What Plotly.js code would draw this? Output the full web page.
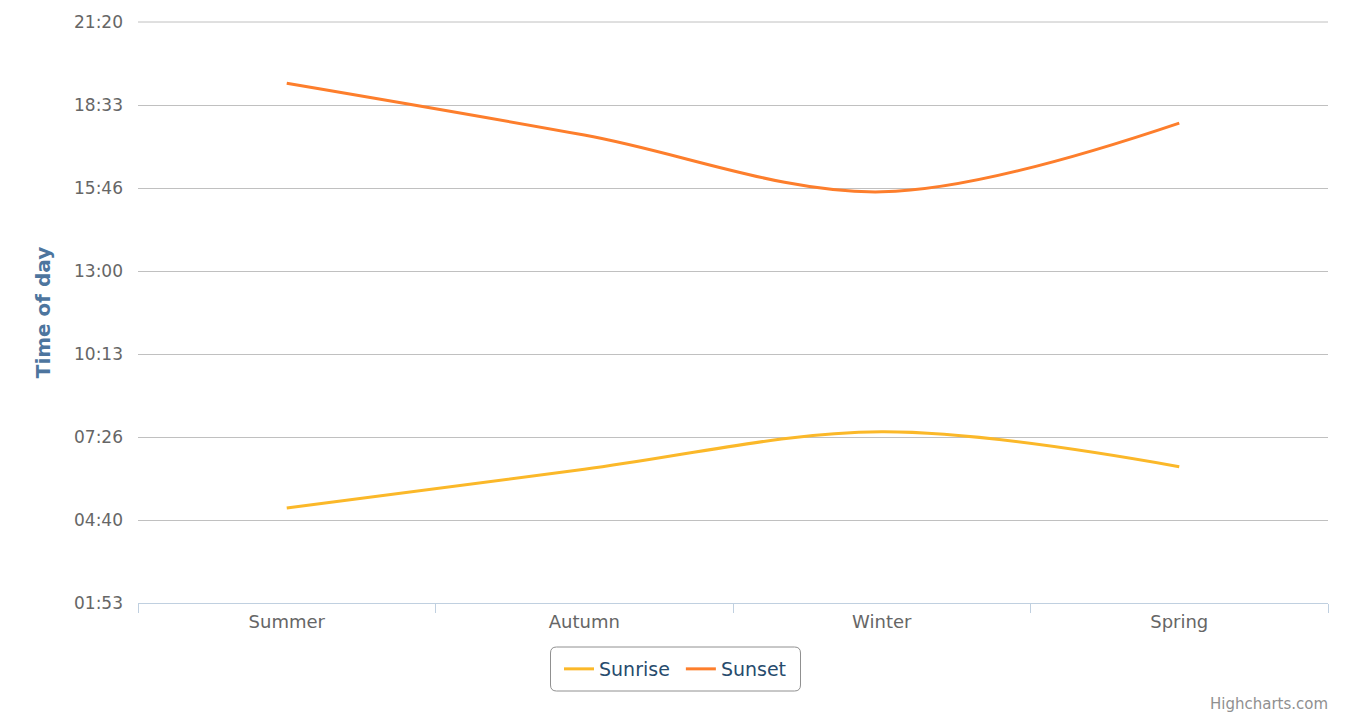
<!DOCTYPE html>
<html>
<head>
<meta charset="utf-8">
<script src="https://cdn.plot.ly/plotly-3.0.1.min.js"></script>
<style>html,body{margin:0;padding:0;background:#fff;}#chart{width:1351px;height:715px;}</style>
</head>
<body>
<div id="chart"></div>
<script>
// Data
var seasons = ["Summer", "Autumn", "Winter", "Spring"];
var sunrise = ["05:04", "06:22", "07:37", "06:27"];
var sunset  = ["19:17", "17:33", "15:39", "17:57"];
var seriesNames = ["Sunrise", "Sunset"];
var baseDay = "1970-01-01 ";
var yRange = ["01:53:20", "21:20:00"];
var yTick0 = "01:53:20";

function toDate(arr){ return arr.map(function(t){ return baseDay + t; }); }

var W = 1351, H = 715;
var L = 138, R = 1328, T = 22, B = 603;
var fontFam = '"DejaVu Sans", "Lucida Grande", Verdana, sans-serif';

var traces = [
  {x: seasons, y: toDate(sunrise), name: seriesNames[0] + "&nbsp;", type: "scatter", mode: "lines",
   line: {color: "#fbb829", width: 3, shape: "spline", smoothing: 1}},
  {x: seasons, y: toDate(sunset), name: seriesNames[1], type: "scatter", mode: "lines",
   line: {color: "#fd7e2c", width: 3, shape: "spline", smoothing: 1}}
];

var legendCx = (W/2 - L) / (R - L);
var legendCy = (B - 669) / (B - T);

function roundRect(w, h, r){
  var x0=-w/2, x1=w/2, y0=-h/2, y1=h/2;
  return "M"+(x0+r)+","+y0+" L"+(x1-r)+","+y0+" Q"+x1+","+y0+" "+x1+","+(y0+r)+
         " L"+x1+","+(y1-r)+" Q"+x1+","+y1+" "+(x1-r)+","+y1+
         " L"+(x0+r)+","+y1+" Q"+x0+","+y1+" "+x0+","+(y1-r)+
         " L"+x0+","+(y0+r)+" Q"+x0+","+y0+" "+(x0+r)+","+y0+" Z";
}

var layout = {
  width: W, height: H,
  margin: {l: L, r: W - R, t: T, b: H - B, pad: 0},
  paper_bgcolor: "#ffffff", plot_bgcolor: "#ffffff",
  font: {family: fontFam, size: 16, color: "#666666"},
  showlegend: true,
  xaxis: {
    type: "category", range: [-0.5, 3.5],
    showgrid: false, zeroline: false,
    showline: true, linecolor: "#c0d0e0", linewidth: 1,
    ticks: "outside", tickson: "boundaries", ticklen: 9, tickcolor: "#c0d0e0", tickwidth: 1,
    ticklabelstandoff: 2,
    tickfont: {family: fontFam, size: 18, color: "#666666"}
  },
  yaxis: {
    type: "date",
    range: [baseDay + yRange[0], baseDay + yRange[1]],
    tick0: baseDay + yTick0, dtick: 10000000, tickformat: "%H:%M",
    showgrid: true, gridcolor: "#c0c0c0", gridwidth: 1,
    zeroline: false, showline: false, ticks: "",
    ticklabelstandoff: 14,
    tickfont: {family: fontFam, size: 17, color: "#666666"},
    title: {text: "Time of day", standoff: 18,
            font: {family: fontFam, size: 20, color: "#4d759e", weight: "bold"}}
  },
  legend: {
    orientation: "h", x: legendCx, xanchor: "center", y: legendCy, yanchor: "middle",
    bgcolor: "rgba(0,0,0,0)", borderwidth: 0,
    font: {family: fontFam, size: 19, color: "#274b6d"},
    itemwidth: 30, tracegroupgap: 0
  },
  shapes: [{
    type: "path", xref: "paper", yref: "paper",
    xsizemode: "pixel", ysizemode: "pixel",
    xanchor: legendCx, yanchor: legendCy,
    path: roundRect(250, 44, 6),
    line: {color: "#909090", width: 1}, fillcolor: "rgba(0,0,0,0)", layer: "below"
  }, {
    type: "line", xref: "paper", yref: "paper", x0: 0, x1: 1, y0: 1, y1: 1,
    line: {color: "#c0c0c0", width: 1}, layer: "below"
  }],
  annotations: [{
    text: "Highcharts.com", xref: "paper", yref: "paper",
    x: 1, xanchor: "right", xshift: 2, y: (B - 704) / (B - T), yanchor: "middle",
    showarrow: false, font: {family: fontFam, size: 15, color: "#909090"}
  }]
};

Plotly.newPlot("chart", traces, layout, {displayModeBar: false, staticPlot: true});
</script>
</body>
</html>
